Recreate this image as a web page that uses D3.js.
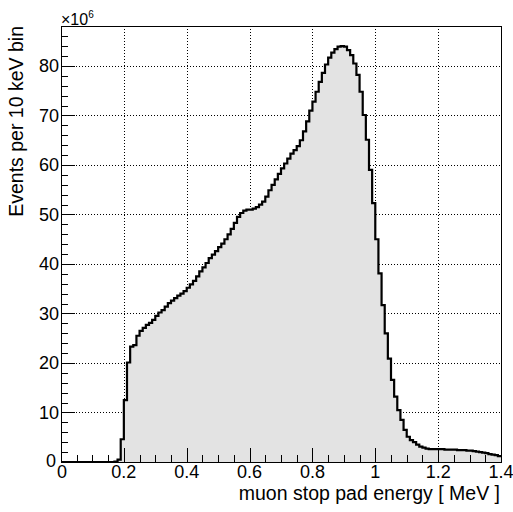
<!DOCTYPE html>
<html>
<head>
<meta charset="utf-8">
<script src="https://cdn.jsdelivr.net/npm/d3@7"></script>
<style>
  body { margin: 0; background: #fff; }
  svg { display: block; font-family: "Liberation Sans", Arial, sans-serif; }
</style>
</head>
<body>
<div id="chart"></div>
<script>
// ---- data, units of 1e6 events per 10 keV bin ----
var binStart = 0;        // MeV
var binWidth = 0.01;     // MeV
var counts = [
  0, 0, 0, 0, 0, 0, 0, 0, 0, 0,
  0, 0, 0, 0, 0, 0, 0, 0.1, 0.5, 4.6,
  12.5, 20.1, 23.3, 23.6, 25.5, 26.5, 27.1, 27.7, 28.1, 28.7,
  29.5, 30.2, 30.7, 31.4, 32.1, 32.6, 33.1, 33.6, 34.0, 34.5,
  35.2, 35.9, 36.6, 37.5, 38.5, 39.3, 40.2, 41.2, 41.9, 42.6,
  43.4, 44.1, 45.0, 46.0, 47.1, 48.3, 49.5, 50.3, 50.8, 51.0,
  51.0, 51.2, 51.5, 52.0, 52.6, 53.6, 54.9, 56.0, 57.1, 58.2,
  59.3, 60.3, 61.3, 62.3, 63.0, 63.8, 65.0, 66.8, 68.8, 71.0,
  72.8, 74.8, 76.8, 78.6, 80.3, 81.7, 82.7, 83.4, 83.9, 84.0,
  83.9, 83.2, 82.2, 80.5, 78.2, 74.8, 70.1, 65.1, 59.0, 52.3,
  45.0, 38.1, 31.7, 26.0, 20.9, 16.6, 13.2, 10.5, 8.5, 6.5,
  5.1, 4.4, 4.0, 3.5, 3.1, 2.9, 2.7, 2.6, 2.6, 2.6,
  2.6, 2.6, 2.5, 2.5, 2.5, 2.5, 2.4, 2.4, 2.4, 2.3,
  2.3, 2.2, 2.1, 2.0, 1.9, 1.8, 1.6, 1.5, 1.4, 1.2
];
var xMajorTicks = [0, 0.2, 0.4, 0.6, 0.8, 1, 1.2, 1.4];
var xTickLabels = ['0', '0.2', '0.4', '0.6', '0.8', '1', '1.2', '1.4'];
var yMajorTicks = [0, 10, 20, 30, 40, 50, 60, 70, 80];
var yTickLabels = ['0', '10', '20', '30', '40', '50', '60', '70', '80'];
var xMinorStep = 0.05;
var yMinorStep = 2;
var xDomain = [0, 1.4];
var yDomain = [0, 88.08];
var xTitle = 'muon stop pad energy [ MeV ]';
var yTitle = 'Events per 10 keV bin';

// ---- layout ----
var W = 513, H = 512;
var frame = { left: 61, right: 501, top: 26, bottom: 462 };

var svg = d3.select('#chart').append('svg')
  .attr('width', W).attr('height', H);

var x = d3.scaleLinear().domain(xDomain).range([frame.left, frame.right]);
var y = d3.scaleLinear().domain(yDomain).range([frame.bottom, frame.top]);

// grid (dotted), under the filled histogram
var grid = svg.append('g')
  .attr('stroke', '#000').attr('stroke-width', 1)
  .attr('stroke-dasharray', '1,2');
grid.selectAll('line.gx')
  .data(xMajorTicks.filter(function(d) { return d > xDomain[0] && d < xDomain[1]; }))
  .enter().append('line')
  .attr('x1', function(d) { return Math.round(x(d)) + 0.5; })
  .attr('x2', function(d) { return Math.round(x(d)) + 0.5; })
  .attr('y1', frame.top).attr('y2', frame.bottom);
grid.selectAll('line.gy')
  .data(yMajorTicks.filter(function(d) { return d > 0; }))
  .enter().append('line')
  .attr('y1', function(d) { return Math.round(y(d)) + 0.5; })
  .attr('y2', function(d) { return Math.round(y(d)) + 0.5; })
  .attr('x1', frame.left).attr('x2', frame.right);

// histogram as a step outline
var pts = [[x(binStart), y(0)]];
counts.forEach(function(v, i) {
  var lo = binStart + i * binWidth, hi = lo + binWidth;
  pts.push([x(lo), y(v)], [x(hi), y(v)]);
});
var last = binStart + counts.length * binWidth;
var outline = d3.line()(pts);
var area = d3.line()(pts.concat([[x(last), y(0)]])) + 'Z';

svg.append('path').attr('d', area)
  .attr('fill', '#e3e3e3').attr('stroke', 'none');
svg.append('path').attr('d', outline)
  .attr('fill', 'none').attr('stroke', '#000')
  .attr('stroke-width', 2.2).attr('stroke-linejoin', 'miter');

// frame
svg.append('rect')
  .attr('x', frame.left + 0.5).attr('y', frame.top + 0.5)
  .attr('width', frame.right - frame.left).attr('height', frame.bottom - frame.top)
  .attr('fill', 'none').attr('stroke', '#000').attr('stroke-width', 1);

// ticks point inward, ROOT style
var ticks = svg.append('g').attr('stroke', '#000').attr('stroke-width', 1);
var xMinor = d3.range(xDomain[0], xDomain[1] + 1e-9, xMinorStep);
ticks.selectAll('line.xt').data(xMinor).enter().append('line')
  .attr('x1', function(d) { return Math.round(x(d)) + 0.5; })
  .attr('x2', function(d) { return Math.round(x(d)) + 0.5; })
  .attr('y1', frame.bottom)
  .attr('y2', function(d, i) { return frame.bottom - (i % 4 === 0 ? 14 : 7); });
var yMinor = d3.range(yDomain[0], yDomain[1], yMinorStep);
ticks.selectAll('line.yt').data(yMinor).enter().append('line')
  .attr('y1', function(d) { return Math.round(y(d)) + 0.5; })
  .attr('y2', function(d) { return Math.round(y(d)) + 0.5; })
  .attr('x1', frame.left)
  .attr('x2', function(d, i) { return frame.left + (i % 5 === 0 ? 14 : 7); });

// tick labels
svg.append('g').selectAll('text').data(xMajorTicks).enter().append('text')
  .attr('x', function(d) { return x(d) + (d === 0 ? 1 : 0); })
  .attr('y', 478)
  .attr('text-anchor', 'middle')
  .attr('font-size', 18).attr('fill', '#000')
  .text(function(d, i) { return xTickLabels[i]; });
svg.append('g').selectAll('text').data(yMajorTicks).enter().append('text')
  // the "0" sits a little up and left so it clears the x-axis "0"
  .attr('x', function(d) { return d === 0 ? 56 : 59; })
  .attr('y', function(d) { return y(d) + (d === 0 ? 4.5 : 6.3); })
  .attr('text-anchor', 'end')
  .attr('font-size', 18).attr('fill', '#000')
  .text(function(d, i) { return yTickLabels[i]; });

// exponent
var ex = svg.append('text').attr('x', 61).attr('y', 25)
  .attr('font-size', 16).attr('fill', '#000');
ex.append('tspan').text('\u00d710');
ex.append('tspan').attr('font-size', 10).attr('dy', -7).text('6');

// axis titles
svg.append('text')
  .attr('x', frame.right - 1).attr('y', 500)
  .attr('text-anchor', 'end')
  .attr('font-size', 19.5).attr('fill', '#000')
  .text(xTitle);
svg.append('text')
  .attr('transform', 'translate(23,' + frame.top + ') rotate(-90)')
  .attr('text-anchor', 'end')
  .attr('font-size', 19.5).attr('fill', '#000')
  .text(yTitle);
</script>
</body>
</html>
